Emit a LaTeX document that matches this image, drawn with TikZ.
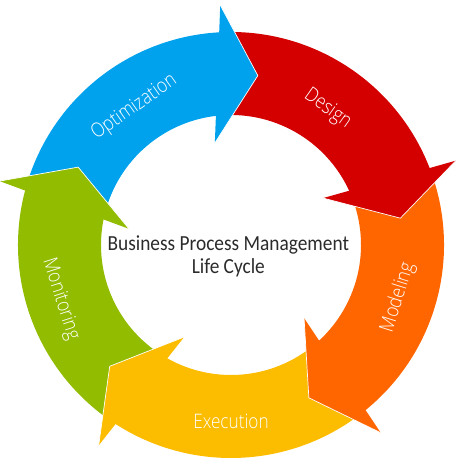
\documentclass[tikz,border=0pt]{standalone}
\usepackage{fontspec}
\setmainfont{Carlito}[FakeStretch=0.9]
\IfFontExistsTF{Open Sans Light}
  {\newfontfamily\labfont{Open Sans Light}[FakeStretch=0.86]\def\labsize{20}}
  {\newfontfamily\labfont{Carlito}[FakeStretch=0.9]\def\labsize{21.5}}
\definecolor{cblue}{HTML}{00A2EE}
\definecolor{cred}{HTML}{D40000}
\definecolor{corange}{HTML}{FF6600}
\definecolor{cyellow}{HTML}{FCBC00}
\definecolor{cgreen}{HTML}{92BC00}
\definecolor{ctext}{HTML}{2B2B2B}
\tikzset{
  seglab/.style={text=white, font=\labfont\fontsize{\labsize}{24}\selectfont, inner sep=0pt},
  headedge/.style={draw=white, line width=0.7pt, line join=round},
  titletext/.style={text=ctext, font=\fontsize{21.5}{23.3}\selectfont, align=center, inner sep=0pt}
}
\begin{document}
\begin{tikzpicture}
\useasboundingbox (-231pt,-220pt) rectangle (225pt,245pt);
\def\Ro{213pt}
\def\Ri{130pt}
% ring bodies
\foreach \b/\c in {94.5/cblue,22.5/cred,-49.5/corange,-121.5/cyellow,-193.5/cgreen}{
  \pgfmathsetmacro\s{\b+72-2.5}
  \pgfmathsetmacro\e{\b-2.5}
  \fill[\c] (\s:\Ro) arc[start angle=\s,end angle=\e,radius=\Ro]
     -- (\e:\Ri) arc[start angle=\e,end angle=\s,radius=\Ri] -- cycle;
}
% arrow heads
\foreach \b/\c in {94.5/cblue,22.5/cred,-49.5/corange,-121.5/cyellow,-193.5/cgreen}{
  \pgfmathsetmacro\po{\b-1.935}
  \pgfmathsetmacro\pt{\b-13.5}
  \pgfmathsetmacro\pi{\b+4.5}
  \fill[\c] (\po:240.16pt) -- (\pt:171.5pt) -- (\pi:103.3pt) -- cycle;
  \draw[headedge] (\po:240.16pt) -- (\pt:171.5pt) -- (\pi:103.3pt);
}
% labels
\node[seglab, rotate=35.1] (opt) at (125.1:168pt) {Optimization};
\node[seglab, rotate=-35.4] (des) at (54.6:166.8pt) {Design};
\node[seglab, rotate=72.55] (mod) at (-17.45:175pt) {Modeling};
\node[seglab] (exe) at (-90:176pt) {Execution};
\node[seglab, rotate=-72.3] (mon) at (197.7:179pt) {Monitoring};
\node[titletext] (title) at (-2.7pt,-11.5pt) {Business Process Management\\Life Cycle};
\end{tikzpicture}
\end{document}
